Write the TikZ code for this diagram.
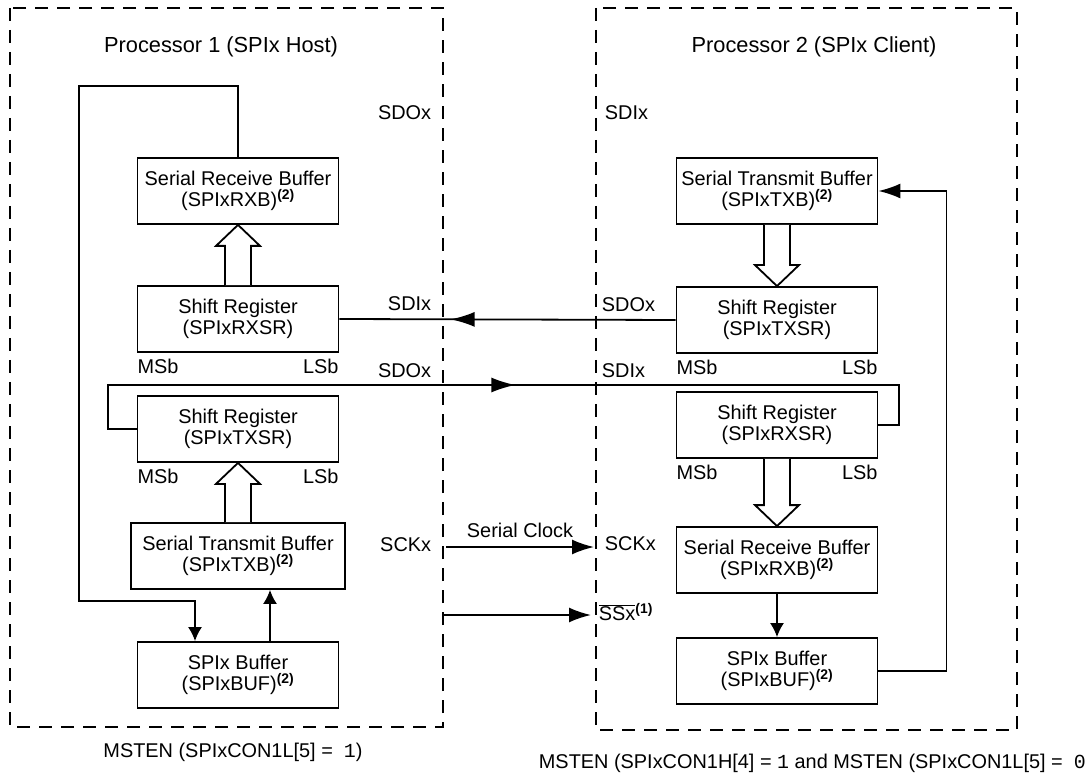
\documentclass[tikz,border=0pt]{standalone}
\usepackage{fontspec}
\setmainfont{Liberation Sans}
\setmonofont{Liberation Mono}
\usetikzlibrary{arrows.meta,calc,decorations.markings}

% hollow transfer arrow: from (#1) to its tip at (#2)
\newcommand{\fatarrow}[2]{%
  \draw[fill=white] let \p1=(#1), \p2=(#2), \p3=($(#2)!21pt!(#1)$) in
    (\x1-13pt,\y1) -- (\x1-13pt,\y3) -- (\x1-22pt,\y3) -- (\x2,\y2)
    -- (\x1+22pt,\y3) -- (\x1+13pt,\y3) -- (\x1+13pt,\y1);}

\begin{document}
\begin{tikzpicture}[x=1pt,y=-1pt,line width=1.8pt,
  >={Latex[length=14pt,width=14pt]},
  font=\fontsize{19.9}{21}\selectfont,
  reg/.style={draw, rectangle, align=center, minimum width=201pt, minimum height=66pt, inner sep=2pt},
  wide/.style={reg, minimum width=214pt},
  proc/.style={draw, dash pattern=on 13pt off 9pt},
  lbl/.style={inner sep=0pt},
  long/.style={-{Latex[length=22pt,width=15pt]}},
  midarrow/.style={postaction={decorate,decoration={markings,
    mark=at position #1 with {\arrow{Latex[length=24pt,width=15pt]}}}}}]
\useasboundingbox (0,0) rectangle (1087,775);

% processors
\draw[proc] (10,8) rectangle (443,727);
\draw[proc] (596,8) rectangle (1017,730);
\node[lbl, font=\fontsize{21.8}{24}\selectfont] (t1) at (221,47) {Processor 1 (SPIx Host)};
\node[lbl, font=\fontsize{21.8}{24}\selectfont] (t2) at (814,47) {Processor 2 (SPIx Client)};

% host side
\node[reg] (lrxb) at (238,191) {Serial Receive Buffer\\(SPIxRXB)\textsuperscript{\bfseries(2)}};
\node[reg] (lrxsr) at (238,319) {Shift Register\\(SPIxRXSR)};
\node[reg] (ltxsr) at (238,429) {Shift Register\\(SPIxTXSR)};
\node[wide] (ltxb) at (238,556) {Serial Transmit Buffer\\(SPIxTXB)\textsuperscript{\bfseries(2)}};
\node[reg] (lbuf) at (238,675) {SPIx Buffer\\(SPIxBUF)\textsuperscript{\bfseries(2)}};

% client side
\node[reg] (rtxb) at (777,191) {Serial Transmit Buffer\\(SPIxTXB)\textsuperscript{\bfseries(2)}};
\node[reg] (rtxsr) at (777,320) {Shift Register\\(SPIxTXSR)};
\node[reg] (rrxsr) at (777,425) {Shift Register\\(SPIxRXSR)};
\node[reg] (rrxb) at (777,560) {Serial Receive Buffer\\(SPIxRXB)\textsuperscript{\bfseries(2)}};
\node[reg] (rbuf) at (777,671) {SPIx Buffer\\(SPIxBUF)\textsuperscript{\bfseries(2)}};

% bit order
\node[lbl, anchor=north west] (msb1) at ([yshift=-5pt]lrxsr.south west) {MSb};
\node[lbl, anchor=north east] (lsb1) at ([yshift=-5pt]lrxsr.south east) {LSb};
\node[lbl, anchor=north west] (msb2) at ([yshift=-5pt]ltxsr.south west) {MSb};
\node[lbl, anchor=north east] (lsb2) at ([yshift=-5pt]ltxsr.south east) {LSb};
\node[lbl, anchor=north west] (msb3) at ([yshift=-5pt]rtxsr.south west) {MSb};
\node[lbl, anchor=north east] (lsb3) at ([yshift=-5pt]rtxsr.south east) {LSb};
\node[lbl, anchor=north west] (msb4) at ([yshift=-5pt]rrxsr.south west) {MSb};
\node[lbl, anchor=north east] (lsb4) at ([yshift=-5pt]rrxsr.south east) {LSb};

% pins
\node[lbl, anchor=east] (sdo1) at (432,113) {SDOx};
\node[lbl, anchor=west] (sdi1) at (604,113) {SDIx};
\node[lbl, anchor=east] (sdi2) at (432,304) {SDIx};
\node[lbl, anchor=west] (sdo2) at (601,305) {SDOx};
\node[lbl, anchor=east] (sdo3) at (432,371) {SDOx};
\node[lbl, anchor=west] (sdi3) at (601,371) {SDIx};
\node[lbl, anchor=east] (sck1) at (432,545) {SCKx};
\node[lbl, anchor=west] (sck2) at (604,544) {SCKx};
\node[lbl, anchor=west] (ss2) at (598,612) {$\overline{\hbox{SSx}}$\textsuperscript{\bfseries(1)}};

\coordinate (ltop) at (79,86);
\coordinate (lbot) at (79,601);
\coordinate (lloop) at (108,385);
\coordinate (rloop) at (899,385);
\coordinate (sckout) at (446,547);
\coordinate (sckin) at (594,547);
\coordinate (ssout) at (443,615);
\coordinate (ssin) at (591,615);

% transfers inside each processor
\fatarrow{lrxsr.north}{lrxb.south}
\fatarrow{ltxb.north}{ltxsr.south}
\fatarrow{rtxb.south}{rtxsr.north}
\fatarrow{rrxsr.south}{rrxb.north}
\draw[->] (lrxb.north) |- (ltop) -- (lbot) -| ([xshift=-43pt]lbuf.north);
\draw[->] ([xshift=32pt]lbuf.north) -- ([xshift=32pt]lbuf.north |- ltxb.south);
\draw[->] (rrxb) -- (rbuf);
\draw[long] (rbuf.east) -| ([xshift=68pt]rtxb.east) -- (rtxb.east);

% serial lines
\draw[midarrow=225pt] (rtxsr.west) -- (lrxsr.east);
\draw[midarrow=480pt] (ltxsr.west) -| (lloop) -- (rloop) |- (rrxsr.east);
\draw[long] (sckout) -- node[lbl, above=8pt] (clk) {Serial Clock} (sckin);
\draw[long] (ssout) -- (ssin);

% mode notes
\node[lbl] (n1) at (233,752) {MSTEN (SPIxCON1L[5] = \ \texttt{1})};
\node[lbl, anchor=west] (n2) at (538,763) {MSTEN (SPIxCON1H[4] = \texttt{1} and MSTEN (SPIxCON1L[5] = \ \texttt{0}};
\end{tikzpicture}
\end{document}
